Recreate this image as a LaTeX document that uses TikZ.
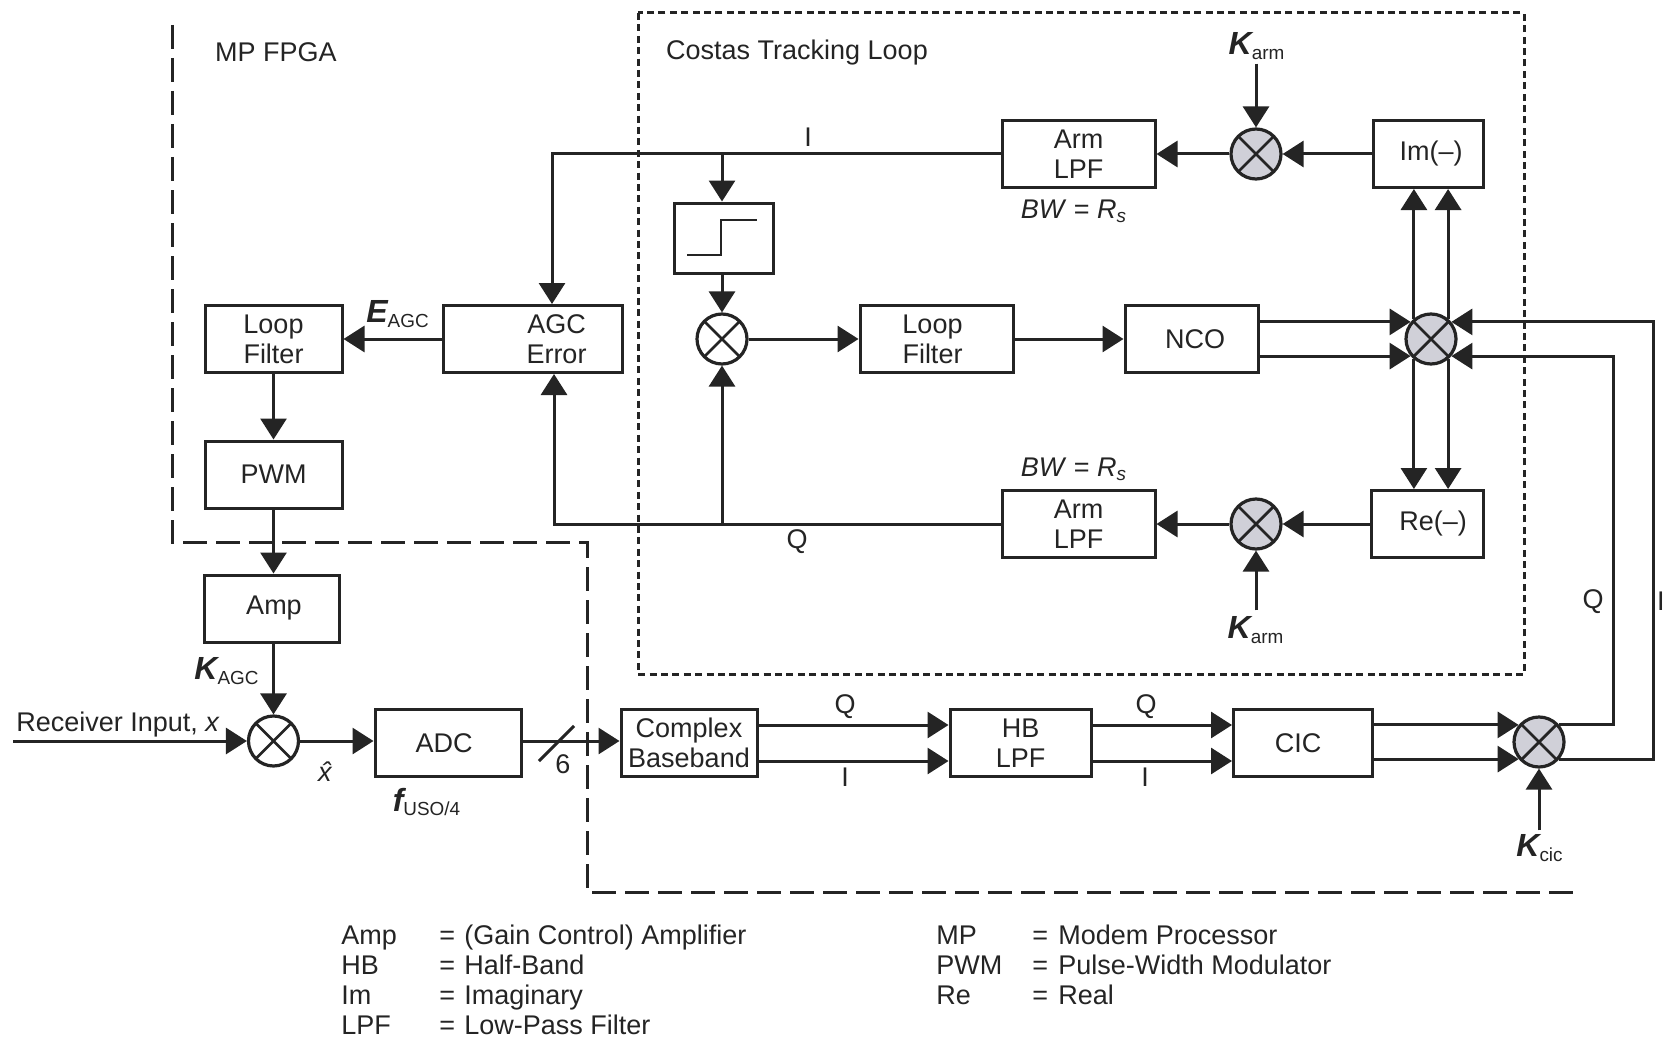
\documentclass[tikz,border=0pt]{standalone}
\usepackage{fontspec}
\setmainfont{Liberation Sans}
\usetikzlibrary{arrows.meta}
\definecolor{inkline}{gray}{0.14}
\definecolor{mixfill}{RGB}{208,208,216}
\newcommand{\gainsym}[2]{{\fontsize{16}{16}\selectfont\bfseries\itshape #1}\textsubscript{#2}}
\tikzset{
  block/.style={draw=inkline, line width=1.5pt, fill=white, text=inkline, minimum width=#1, minimum height=33.5pt, inner sep=0pt, align=center},
  mixer/.style={circle, draw=inkline, line width=1.6pt, fill=white, minimum size=25pt, inner sep=0pt,
    path picture={\draw[inkline, line width=1.4pt] (path picture bounding box.north west) -- (path picture bounding box.south east)
      (path picture bounding box.north east) -- (path picture bounding box.south west);}},
  graymixer/.style={mixer, fill=mixfill},
  tag/.style={inner sep=0pt, text=inkline},
  wire/.style={draw=inkline, line width=1.5pt},
}
\begin{document}
\begin{tikzpicture}[x=0.5pt, y=-0.5pt, >={Triangle[length=10.5pt,width=13pt]}, font=\fontsize{13.5}{15}\selectfont]
            \useasboundingbox[fill=white] (0,0) rectangle (1665,1038);
            \draw[inkline, line width=1.5pt, dash pattern=on 12pt off 4.5pt] (172,25) -- (172,542) -- (587,542) -- (587,892) -- (1578,892);
            \draw[inkline, line width=1.5pt, dash pattern=on 3.5pt off 2.2pt] (638,13) rectangle (1524,674);
            \node[tag] (fpga) at (276,52) {MP FPGA};
            \node[tag] (costas) at (797,53) {Costas Tracking Loop};

            \node[block=76.5pt] (armtop) at (1078.5,154) {Arm\\LPF};
            \node[block=55pt] (imag) at (1428,154) {\hspace*{3pt}Im(–)};
            \node[graymixer] (mixtop) at (1256,154) {};
            \node[block=49.5pt, minimum height=35pt] (limit) at (723.5,238) {};
            \node[mixer] (mixloop) at (722,339) {};
            \node[block=76.5pt] (filtmid) at (936.5,339) {Loop\hspace*{4pt}\\Filter\hspace*{4pt}};
            \node[block=66.5pt] (nco) at (1191.5,339) {\hspace*{3.5pt}NCO};
            \node[graymixer] (mixmid) at (1431,339) {};
            \node[block=89.5pt] (agc) at (532.5,339) {\hspace*{24pt}AGC\\\hspace*{24pt}Error};
            \node[block=68.5pt] (filtleft) at (273.5,339) {Loop\\Filter};
            \node[block=68.5pt] (pwm) at (273.5,474.5) {PWM};
            \node[block=76.5pt] (armbot) at (1078.5,524) {Arm\\LPF};
            \node[graymixer] (mixbot) at (1256,524) {};
            \node[block=56pt] (real) at (1427,524) {\hspace*{6pt}Re(–)};
            \node[block=67.5pt] (amp) at (271.5,608.5) {\hspace*{2.5pt}Amp};
            \node[mixer] (mixin) at (273.5,741) {};
            \node[block=73pt] (adc) at (448,743) {ADC\hspace*{4pt}};
            \node[block=68pt] (base) at (689,743) {Complex\\Baseband};
            \node[block=70.5pt] (hblpf) at (1020.5,743) {HB\\LPF};
            \node[block=69.5pt] (cic) at (1303,743) {CIC\hspace*{5pt}};
            \node[graymixer] (mixout) at (1539,742) {};

            \coordinate (inlet) at (13,741);
            \coordinate (railq) at (1613,540);
            \coordinate (raili) at (1653,540);
            \coordinate (itap) at (722,154);
            \coordinate (qtap) at (722,524);

            \node[tag] (ktop) at (1257,46) {\gainsym{K}{arm}};
            \node[tag] (kbot) at (1256,630) {\gainsym{K}{arm}};
            \node[tag] (kout) at (1540,848) {\gainsym{K}{cic}};
            \node[tag] (kagc) at (227,671) {\gainsym{K}{AGC}};
            \node[tag] (eagc) at (398,314) {\gainsym{E}{AGC}};
            \node[tag] (ftag) at (427,802) {\gainsym{f}{USO/4}};
            \node[tag] (bwtop) at (1074,211) {\textit{BW} = \textit{R}\textsubscript{\textit{s}}};
            \node[tag] (bwbot) at (1074,469) {\textit{BW} = \textit{R}\textsubscript{\textit{s}}};
            \node[tag] (ilabel) at (808,137) {I};
            \node[tag] (qlabel) at (797,542) {Q};
            \node[tag] (qright) at (1593,602) {Q};
            \node[tag, anchor=east] (iright) at (1665,601) {I};
            \node[tag] (q1) at (845,707) {Q};
            \node[tag] (i1) at (845,777) {I};
            \node[tag] (q2) at (1146,707) {Q};
            \node[tag] (i2) at (1145,777) {I};
            \node[tag] (rxlabel) at (118,725) {Receiver Input, \textit{x}};
            \node[tag] (xhat) at (327,772) {\textit{\^x}};
            \node[tag] (six) at (563,764) {6};

            \draw[wire, ->] (ktop.south -| mixtop) ++(0,4) -- (mixtop);
            \draw[wire, ->] (kbot.north -| mixbot) ++(0,-6) -- (mixbot);
            \draw[wire, ->] (kout.north -| mixout) ++(0,-4) -- (mixout);
            \draw[wire, ->] (imag) -- (mixtop);
            \draw[wire, ->] (mixtop) -- (armtop);
            \draw[wire, ->] (real) -- (mixbot);
            \draw[wire, ->] (mixbot) -- (armbot);
            \draw[wire, ->] (armtop.west) -- (itap) -| (agc.north -| 552,0);
            \draw[wire, ->] (itap) -- (itap |- limit.north);
            \draw[wire, ->] (limit.south -| mixloop) -- (mixloop);
            \draw[wire, ->] (armbot.west) -- (qtap) -| (agc.south -| 554,0);
            \draw[wire, ->] (qtap) -- (mixloop);
            \draw[wire, ->] (mixloop) -- (filtmid);
            \draw[wire, ->] (filtmid) -- (nco);
            \draw[wire, ->] (agc) -- (filtleft);
            \draw[wire, ->] (filtleft) -- (pwm);
            \draw[wire, ->] (pwm.south) -- (pwm.south |- amp.north);
            \draw[wire, ->] (amp.south -| mixin) -- (mixin);
            \draw[wire, ->] (inlet) -- (mixin);
            \draw[wire, ->] (mixin) -- (mixin -| adc.west);
            \draw[wire, ->] (adc.east |- mixin) -- (mixin -| base.west);
            \draw[inkline, line width=1.5pt] (539,761) -- (574,726);
            \draw[wire, ->] (nco.east |- mixmid.140) -- (mixmid.140);
            \draw[wire, ->] (nco.east |- mixmid.220) -- (mixmid.220);
            \draw[wire, ->] (mixmid.130) -- (mixmid.130 |- imag.south);
            \draw[wire, ->] (mixmid.50) -- (mixmid.50 |- imag.south);
            \draw[wire, ->] (mixmid.230) -- (mixmid.230 |- real.north);
            \draw[wire, ->] (mixmid.310) -- (mixmid.310 |- real.north);
            \draw[wire, ->] ([yshift=9pt]base.east) -- ([yshift=9pt]hblpf.west);
            \draw[wire, ->] ([yshift=-9pt]base.east) -- ([yshift=-9pt]hblpf.west);
            \draw[wire, ->] ([yshift=9pt]hblpf.east) -- ([yshift=9pt]cic.west);
            \draw[wire, ->] ([yshift=-9pt]hblpf.east) -- ([yshift=-9pt]cic.west);
            \draw[wire, ->] (cic.east |- mixout.140) -- (mixout.140);
            \draw[wire, ->] (cic.east |- mixout.220) -- (mixout.220);
            \draw[wire, ->] (mixout.40) -| (railq) |- (mixmid.320);
            \draw[wire, ->] (mixout.320) -| (raili) |- (mixmid.40);
            \draw[inkline, line width=1.3pt] (687,255) -- (721,255) -- (721,220) -- (757,220);

            \node[tag, anchor=north west] (keyleft) at (341,923) {\begin{tabular}{@{}p{49pt}@{}p{12.5pt}@{}l@{}}
              Amp & = & (Gain Control) Amplifier\\
              HB & = & Half-Band\\
              Im & = & Imaginary\\
              LPF & = & Low-Pass Filter
            \end{tabular}};
            \node[tag, anchor=north west] (keyright) at (936,923) {\begin{tabular}{@{}p{48pt}@{}p{13pt}@{}l@{}}
              MP & = & Modem Processor\\
              PWM & = & Pulse-Width Modulator\\
              Re & = & Real
            \end{tabular}};
        \end{tikzpicture}
\end{document}
